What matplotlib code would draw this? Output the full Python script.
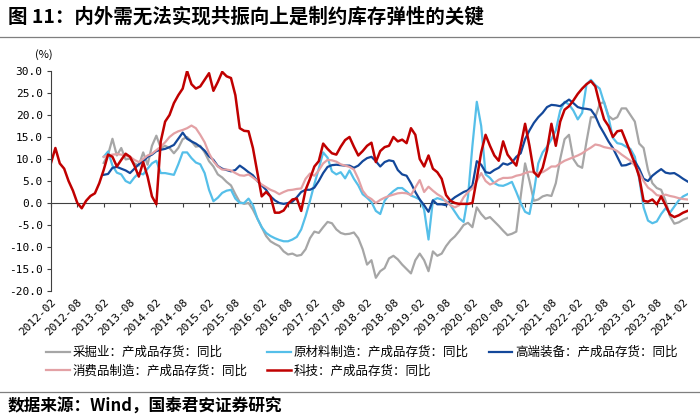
import numpy as np
import pandas as pd
import matplotlib
matplotlib.use("Agg")
import matplotlib.pyplot as plt
from matplotlib.lines import Line2D

cjk = ["Noto Sans CJK SC", "DejaVu Sans"]
plt.rcParams["font.family"] = cjk

# monthly data, 2012-02 .. 2024-03
months = pd.date_range("2012-02-01", "2024-03-01", freq="MS")
tick_labels = [d.strftime("%Y-%m") for d in months[::6]]

# 科技 starts 2012-02
tech = [9.1, 12.5, 9.0, 7.8, 5.0, 2.8, 0.0, -1.2, 0.5, 1.6,
        2.2, 4.5, 7.5, 11.0, 10.5, 8.3, 9.8, 11.2, 10.5, 8.5,
        6.0, 9.3, 6.0, 1.5, -0.3, 14.0, 18.5, 20.0, 22.7, 24.5,
        26.0, 30.0, 27.0, 26.0, 26.5, 28.0, 29.5, 25.5, 27.5, 29.8,
        28.8, 28.4, 24.5, 17.0, 16.4, 16.3, 12.5, 7.0, 1.5, 2.5,
        1.5, -2.2, -2.2, -1.7, -0.2, 0.8, 1.0, -1.8, 3.0, 5.5,
        8.3, 9.5, 13.5, 12.3, 11.3, 11.0, 12.8, 14.3, 15.0, 12.8,
        10.8, 11.8, 13.0, 13.7, 9.3, 11.8, 12.7, 13.0, 15.0, 14.0,
        14.4, 13.6, 17.0, 15.5, 10.0, 8.3, 10.8, 7.8, 7.0, 5.5,
        1.8, 0.5, 0.0, -0.2, -0.2, -0.2, 0.0, 5.5, 11.5, 15.5,
        13.0, 10.8, 9.6, 14.0, 11.0, 9.7, 8.5, 13.0, 18.0, 13.0,
        7.0, 6.0, 8.0, 12.0, 18.0, 13.0, 18.5, 21.2, 22.0, 23.3,
        24.8, 26.0, 27.0, 27.7, 26.5, 22.5, 19.0, 17.5, 15.0, 16.3,
        16.5, 14.0, 11.5, 9.0, 6.0, 0.5, 0.3, 0.8, -0.3, 1.5,
        -0.5, -2.6, -3.2, -2.8, -2.2, -1.8]

# the other four start 2013-02
mining = [9.1, 11.0, 14.6, 10.8, 12.5, 9.9, 10.1, 9.0, 8.5, 11.5,
          8.7, 13.0, 15.3, 12.5, 13.0, 12.5, 11.3, 12.5, 14.5, 15.0,
          14.0, 12.8, 13.0, 11.5, 9.5, 8.3, 6.5, 5.8, 4.8, 4.0,
          2.0, 0.2, -0.2, 0.0, -1.5, -3.5, -5.5, -7.5, -8.7, -9.3,
          -9.8, -11.0, -11.7, -11.5, -12.0, -11.8, -10.5, -8.0, -6.5, -6.8,
          -5.5, -4.3, -4.6, -6.0, -6.8, -7.1, -7.0, -6.7, -8.0, -10.5,
          -14.0, -13.0, -17.0, -15.5, -14.8, -12.6, -12.0, -12.8, -14.0, -15.0,
          -16.0, -13.0, -11.5, -13.0, -15.5, -11.0, -12.0, -11.5, -9.8, -8.5,
          -7.6, -6.4, -5.0, -4.5, -5.5, -1.0, -2.5, -3.6, -3.2, -4.2,
          -5.2, -6.3, -7.3, -7.0, -6.5, 1.5, 9.0, 5.0, 0.5, 0.8,
          1.5, 1.8, 1.6, 4.5, 10.0, 14.5, 15.5, 10.0, 8.5, 8.0,
          14.0, 19.5, 19.5, 22.5, 23.0, 19.8, 19.0, 19.5, 21.5, 21.5,
          20.0, 18.5, 13.5, 12.5, 7.5, 4.5, 3.4, 3.0, 0.5, -3.0,
          -4.7, -4.4, -3.8, -3.4]

raw_mat = [10.5, 11.7, 8.5, 6.9, 6.5, 5.0, 4.5, 5.8, 6.8, 6.5,
           7.8, 9.0, 9.6, 6.8, 6.8, 6.6, 6.4, 8.8, 11.5, 11.5,
           10.2, 9.2, 8.8, 6.8, 3.0, 0.4, 1.2, 2.3, 2.8, 3.0,
           1.0, 0.0, 0.0, 1.0, -0.5, -3.5, -5.5, -6.8, -7.5, -8.0,
           -8.4, -8.7, -8.7, -8.3, -7.7, -6.0, -3.0, 0.5, 4.3, 7.8,
           11.5, 10.3, 7.2, 6.5, 7.0, 5.6, 7.4, 5.5, 4.0, 2.0,
           1.2, 0.2, -1.8, -2.5, 0.5, 1.8, 2.7, 3.4, 3.4, 2.6,
           1.7, 1.3, 0.8, -1.5, -8.3, 0.6, 1.1, 0.8, 0.5, -0.5,
           -2.0, -3.5, -4.3, 1.5, 13.0, 23.0, 17.5, 6.5, 5.7, 4.5,
           4.0, 3.9, 4.3, 4.8, 2.5, 0.0, -2.0, -2.5, 2.5, 9.0,
           11.5, 12.8, 14.5, 16.5, 21.0, 23.0, 22.4, 21.0, 19.0, 20.5,
           27.0, 28.0, 26.8, 26.0, 22.8, 19.5, 14.8, 13.6, 13.4, 12.8,
           12.3, 10.5, 5.5, -1.0, -4.0, -4.6, -4.2, -2.5, -1.2, -2.2,
           -0.8, 0.6, 1.5, 2.0]

high_end = [6.4, 6.6, 8.0, 8.2, 7.8, 7.4, 6.8, 7.8, 8.8, 9.5,
            10.5, 11.0, 11.8, 12.1, 12.3, 12.7, 13.2, 14.6, 16.0, 14.6,
            14.0, 13.5, 12.8, 11.9, 10.6, 9.8, 8.4, 7.8, 7.5, 7.2,
            7.5, 8.5, 7.8, 7.0, 6.3, 5.0, 4.0, 3.0, 1.5, 0.6,
            0.0, -0.2, 0.0, 0.3, 1.3, 2.5, 3.0, 3.0, 3.5, 5.0,
            6.8, 8.2, 8.6, 8.7, 8.6, 8.5, 8.5, 8.0, 8.5, 9.5,
            10.2, 10.5, 9.5, 8.3, 9.3, 9.7, 9.5, 7.5, 6.5, 6.2,
            4.5, 2.5, 0.8, -0.5, -2.0, 0.6, -0.3, -0.3, -0.5, 0.5,
            1.3, 1.9, 2.5, 2.9, 4.0, 9.5, 8.7, 7.0, 6.8, 7.5,
            8.0, 9.0, 8.7, 9.2, 10.5, 11.3, 14.5, 16.5, 18.2, 19.5,
            20.5, 21.8, 22.3, 22.2, 22.0, 22.8, 23.5, 22.7, 21.8, 21.5,
            21.4, 21.2, 19.8, 17.5, 15.8, 14.0, 12.5, 10.5, 8.5, 8.6,
            9.0, 9.5, 7.8, 5.5, 5.0, 6.2, 7.0, 7.7, 6.9, 6.7,
            6.8, 6.2, 5.5, 4.9]

consumer = [10.5, 10.8, 11.0, 11.1, 11.0, 10.7, 10.5, 9.8, 9.3, 10.0,
            10.8, 11.2, 12.0, 12.8, 13.8, 15.0, 15.8, 16.3, 16.6, 17.0,
            17.6, 17.0, 15.5, 13.8, 11.3, 9.5, 8.3, 7.6, 7.6, 7.4,
            6.8, 6.3, 6.2, 6.5, 5.8, 5.0, 4.2, 3.6, 3.0, 2.6,
            2.0, 2.5, 2.9, 3.0, 3.2, 3.3, 5.5, 6.7, 6.2, 7.4,
            9.0, 9.8, 9.7, 9.4, 8.8, 8.5, 8.2, 7.6, 5.5, 2.8,
            1.5, 0.9, 0.0, 0.7, 1.2, 1.6, 1.9, 2.2, 2.3, 2.2,
            1.8, 3.5, 5.2, 2.5, 3.7, 2.8, 2.0, 1.4, 0.3, -0.5,
            -1.0, -0.5, 1.3, 2.5, 3.3, 5.0, 6.8, 5.0, 4.2, 4.6,
            5.3, 5.7, 5.7, 5.8, 6.2, 6.4, 6.8, 7.1, 7.0, 6.8,
            7.0, 7.6, 8.3, 8.3, 9.0, 9.6, 10.0, 10.4, 10.8, 11.3,
            12.0, 12.6, 13.3, 13.1, 12.7, 12.5, 12.3, 11.8, 11.0, 10.3,
            9.6, 8.5, 7.0, 5.0, 3.5, 2.8, 1.8, 1.6, 1.9, 1.6,
            1.4, 1.1, 0.9, 0.8]

x_all = np.arange(len(months))
x_late = x_all[12:]

fig = plt.figure(figsize=(7, 4.19), dpi=100)
ax = fig.add_axes([51/700, 1-291/419, (687.5-51)/700, 220/419])

lw = 1.6
l_min, = ax.plot(x_late, mining, color="#a6a6a6", lw=lw)
l_raw, = ax.plot(x_late, raw_mat, color="#55bfe9", lw=lw)
l_hi, = ax.plot(x_late, high_end, color="#13489a", lw=lw)
l_con, = ax.plot(x_late, consumer, color="#e3a1a5", lw=lw)
l_tech, = ax.plot(x_all, tech, color="#c00000", lw=1.8)

ax.set_xlim(0, len(months) - 1)
ax.set_ylim(-20, 30)
ax.set_yticks(np.arange(-20, 31, 5))
ax.set_yticklabels([f"{v:.1f}" for v in np.arange(-20, 31, 5)],
                   family="DejaVu Sans Mono", fontsize=8)
ax.tick_params(axis="y", direction="out", length=3, width=0.8, pad=3,
               colors="#404040", labelcolor="black")

# tick labels at the bottom, axis line on zero
ax.set_xticks(x_all[::6])
ax.set_xticklabels(tick_labels, rotation=45, ha="right", va="top",
                   rotation_mode="anchor", family="DejaVu Sans Mono", fontsize=8)
ax.tick_params(axis="x", length=0, pad=4)

for s in ["top", "right", "bottom"]:
    ax.spines[s].set_visible(False)
ax.spines["left"].set_color("#404040")
ax.spines["left"].set_linewidth(0.8)

zero = ax.secondary_xaxis(0.4)
zero.set_xticks(x_all[::6])
zero.set_xticklabels([])
zero.tick_params(direction="out", length=3, width=0.8, colors="#404040")
zero.spines["bottom"].set_color("#404040")
zero.spines["bottom"].set_linewidth(0.8)

fig.text(44/700, 1-55/419, "(%)", ha="center", va="center", fontsize=8)

fig.text(8/700, 1-17/419, "图 11：内外需无法实现共振向上是制约库存弹性的关键",
         fontsize=14, fontweight="bold", va="center", ha="left")
fig.add_artist(Line2D([0, 1], [1-37/419, 1-37/419], transform=fig.transFigure,
                      color="#7f7f7f", lw=0.9))

handles = [l_min, l_con, l_raw, l_tech, l_hi]
labels = ["采掘业：产成品存货：同比", "消费品制造：产成品存货：同比",
          "原材料制造：产成品存货：同比", "科技：产成品存货：同比",
          "高端装备：产成品存货：同比"]
fig.legend(handles, labels, ncol=3, loc="upper left",
           bbox_to_anchor=(46/700, 1-346/419), frameon=False,
           fontsize=9, handlelength=1.9, handletextpad=0.2,
           columnspacing=1.6, labelspacing=0.45, borderpad=0, borderaxespad=0)

fig.add_artist(Line2D([0, 1], [1-392/419, 1-392/419], transform=fig.transFigure,
                      color="#7f7f7f", lw=0.9))
fig.text(8/700, 1-407/419, "数据来源：Wind，国泰君安证券研究",
         fontsize=12, fontweight="bold", va="center", ha="left")

fig.savefig("out.png", dpi=100)
